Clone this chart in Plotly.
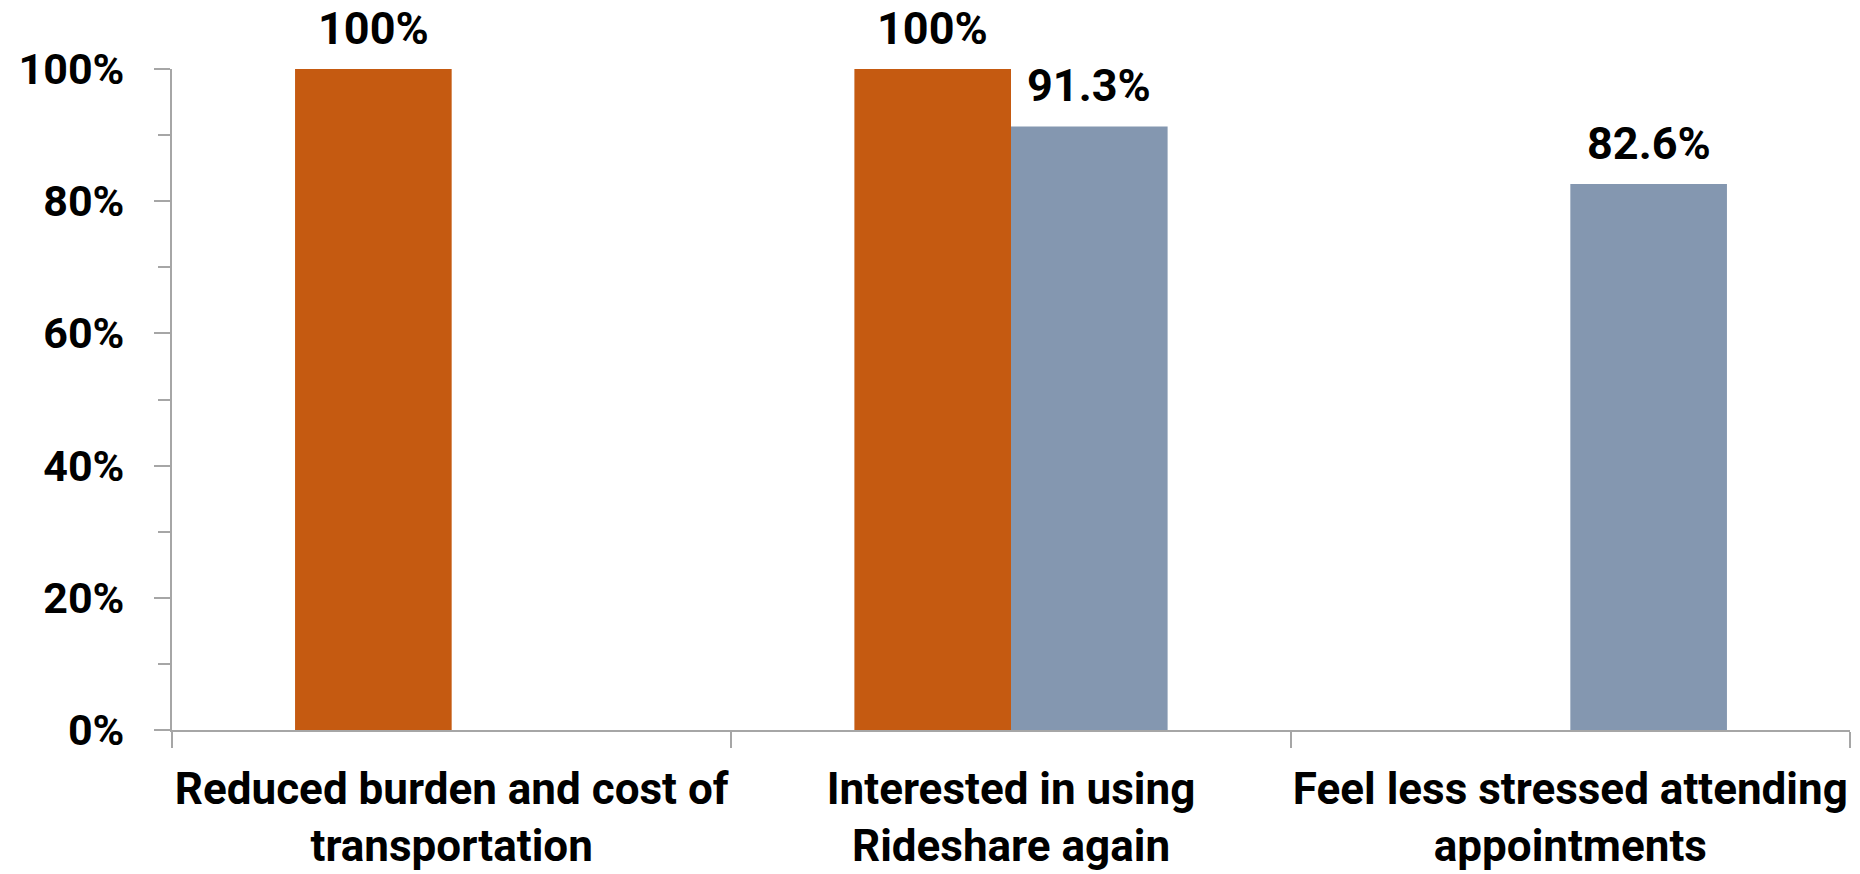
import plotly.graph_objects as go

categories = [
    "Reduced burden and cost of<br>transportation",
    "Interested in using<br>Rideshare again",
    "Feel less stressed attending<br>appointments",
]
series_a = [100, 100, None]
series_b = [None, 91.3, 82.6]
y_ticks = [0, 20, 40, 60, 80, 100]

FONT = "Roboto, sans-serif"
AXIS_GRAY = "#A6A6A6"
BAR_GAP = 0.44
N_SERIES = 2


def fmt(v):
    return f"{int(v)}%" if float(v).is_integer() else f"{v:.1f}%"


fig = go.Figure()
for name, vals, color in [("Series 1", series_a, "#C55A11"),
                          ("Series 2", series_b, "#8497B0")]:
    fig.add_trace(go.Bar(
        x=list(range(len(categories))), y=vals, name=name,
        marker=dict(color=color, line=dict(width=0)),
    ))

# value labels centred over each bar of the group
bar_w = (1 - BAR_GAP) / N_SERIES
for s, vals in enumerate([series_a, series_b]):
    off = (s - (N_SERIES - 1) / 2) * bar_w
    for i, v in enumerate(vals):
        if v is None:
            continue
        fig.add_annotation(
            x=i + off, y=v, text=fmt(v), showarrow=False,
            yanchor="middle", yshift=41,
            font=dict(family=FONT, size=45, color="black", weight="bold"),
        )

fig.update_layout(
    width=1860, height=874,
    margin=dict(l=172, r=10, t=69, b=144),
    barmode="group", bargap=BAR_GAP, bargroupgap=0,
    showlegend=False,
    plot_bgcolor="white", paper_bgcolor="white",
    font=dict(family=FONT, size=44, color="black", weight="bold"),
)
fig.update_yaxes(
    range=[0, 100], tickvals=y_ticks,
    ticktext=[f"{t}%" for t in y_ticks],
    automargin=False,
    showgrid=False, zeroline=False,
    showline=True, linecolor=AXIS_GRAY, linewidth=2,
    ticks="outside", ticklen=16, tickcolor=AXIS_GRAY, tickwidth=2,
    minor=dict(dtick=10, tick0=0, ticks="outside", ticklen=12,
               tickcolor=AXIS_GRAY, tickwidth=2, showgrid=False),
    ticklabelstandoff=21,
    tickfont=dict(family=FONT, size=43, color="black", weight="bold"),
)
fig.update_xaxes(
    range=[-0.5, len(categories) - 0.5],
    tickvals=list(range(len(categories))), ticktext=categories,
    automargin=False,
    showgrid=False, showline=True, linecolor=AXIS_GRAY, linewidth=2,
    ticks="", ticklabelstandoff=19,
    tickfont=dict(family=FONT, size=44, color="black", weight="bold"),
    minor=dict(tickvals=[i - 0.5 for i in range(len(categories) + 1)],
               ticks="outside", ticklen=16, tickcolor=AXIS_GRAY,
               tickwidth=2, showgrid=False),
)

fig.write_html("out.html")
